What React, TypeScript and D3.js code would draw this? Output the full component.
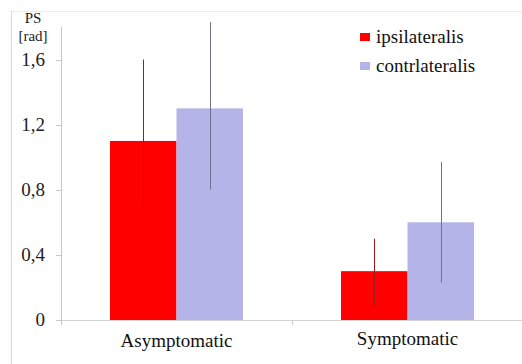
import React from 'react'
import * as d3 from 'd3'

// data
const categories = ['Asymptomatic', 'Symptomatic']
const series = ['ipsilateralis', 'contrlateralis']
const ipsiValues = [1.1, 0.3]
const contraValues = [1.3, 0.6]
// error bar ends (low, high)
const ipsiErrLow = [0.7, 0.09]
const ipsiErrHigh = [1.6, 0.5]
const contraErrLow = [0.8, 0.23]
const contraErrHigh = [1.83, 0.97]
const yTicks = [0, 0.4, 0.8, 1.2, 1.6]

const COLORS = ['#ff0000', '#b4b4e9']
const FONT = 'Liberation Serif, DejaVu Serif, Times New Roman, Times, serif'

export default function App() {
  const width = 522
  const height = 364
  const margin = { top: 27, left: 61, bottom: 44 }
  const y0 = height - margin.bottom

  const x = d3.scaleBand<string>().domain(categories).range([margin.left, 523]).padding(0)
  const xInner = d3.scaleBand<string>().domain(series).range([0, x.bandwidth()]).paddingInner(0).paddingOuter(0.737)
  const y = d3.scaleLinear().domain([0, 1.8]).range([y0, margin.top])

  const values = [ipsiValues, contraValues]
  const errLow = [ipsiErrLow, contraErrLow]
  const errHigh = [ipsiErrHigh, contraErrHigh]

  const fmt = (d: number) => (d === 0 ? '0' : d.toFixed(1).replace('.', ','))

  return (
    <svg width={width} height={height} style={{ position: 'absolute', left: 0, top: 0, background: '#fff', fontFamily: FONT }}>
      {/* frame */}
      <line x1={11} x2={width} y1={11.5} y2={11.5} stroke="#ececec" />
      <line x1={11.5} x2={11.5} y1={11} y2={height} stroke="#d8d8d8" />

      {/* bars */}
      {categories.map((c, ci) =>
        series.map((s, si) => {
          const bx = (x(c) ?? 0) + (xInner(s) ?? 0)
          const v = values[si][ci]
          return (
            <rect key={c + s} x={bx} y={y(v)} width={xInner.bandwidth()} height={y0 - y(v)} fill={COLORS[si]} />
          )
        })
      )}

      {/* error bars */}
      {categories.map((c, ci) =>
        series.map((s, si) => {
          const cx = Math.round((x(c) ?? 0) + (xInner(s) ?? 0) + xInner.bandwidth() / 2) + 0.5
          return (
            <line key={'e' + c + s} x1={cx} x2={cx} y1={y(errHigh[si][ci])} y2={y(errLow[si][ci])}
              stroke={si === 0 ? '#a01818' : '#70708e'} strokeWidth={1} />
          )
        })
      )}

      {/* y axis */}
      <line x1={margin.left + 0.5} x2={margin.left + 0.5} y1={margin.top} y2={y0} stroke="#c8c8c8" />
      {yTicks.map((t) => (
        <g key={t}>
          <line x1={margin.left - 5} x2={margin.left} y1={Math.round(y(t)) + 0.5} y2={Math.round(y(t)) + 0.5} stroke="#c8c8c8" />
          <text x={45} y={y(t) + 6} textAnchor="end" fontSize={19} fill="#222">{fmt(t)}</text>
        </g>
      ))}
      <text x={33} y={23} textAnchor="middle" fontSize={15} fill="#222">PS</text>
      <text x={33} y={41} textAnchor="middle" fontSize={15} fill="#222">[rad]</text>

      {/* x axis */}
      <line x1={margin.left} x2={width} y1={y0 + 0.5} y2={y0 + 0.5} stroke="#d4d4d4" />
      {[x(categories[0]) ?? 0, x(categories[1]) ?? 0].map((tx, i) => (
        <line key={i} x1={tx + 0.5} x2={tx + 0.5} y1={y0} y2={y0 + 5} stroke="#c8c8c8" />
      ))}
      {categories.map((c, i) => (
        <text key={c} x={(x(c) ?? 0) + x.bandwidth() / 2} y={i === 0 ? 347 : 345} textAnchor="middle"
          fontSize={19} fill="#111">{c}</text>
      ))}

      {/* legend */}
      {series.map((s, i) => (
        <g key={s} transform={`translate(360, ${33 + i * 29})`}>
          <rect width={10} height={8} fill={COLORS[i]} />
          <text x={16} y={10} fontSize={19} fill="#111">{s}</text>
        </g>
      ))}
    </svg>
  )
}
